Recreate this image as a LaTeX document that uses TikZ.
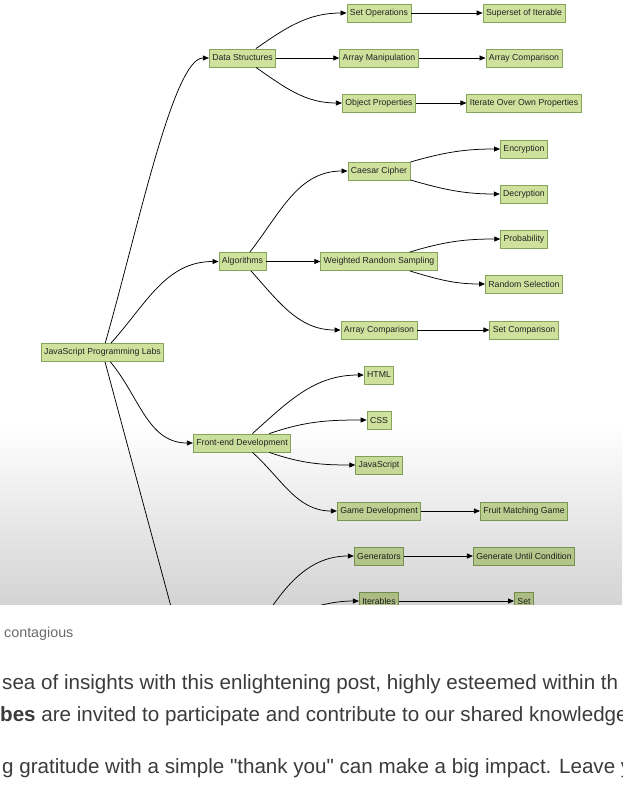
\documentclass[tikz,border=0pt]{standalone}
\usepackage{fontspec}
\setmainfont{Liberation Sans}[Ligatures=TeXOff]
\usepackage{tikz}
\usetikzlibrary{arrows.meta}
\definecolor{leaf}{HTML}{CEE29E}
\definecolor{leafedge}{HTML}{86A55A}
\definecolor{ink}{HTML}{222222}
\definecolor{bodytxt}{HTML}{3B3B3B}
\definecolor{softtxt}{HTML}{6A6A6A}

\begin{document}
\begin{tikzpicture}[x=1pt, y=1pt,
    topic/.style={draw=leafedge, fill=leaf, line width=0.8pt, text=ink,
      font=\fontsize{8.7}{10}\selectfont, inner xsep=3pt, inner ysep=0pt, minimum height=18pt},
    link/.style={-{Triangle[length=6pt, width=5pt]}, line width=0.75pt},
    para/.style={anchor=base west, inner sep=0pt, text=bodytxt, font=\fontsize{20.6}{24}\selectfont}]
  \useasboundingbox (0,0) rectangle (622,-796);
  \begin{scope}
    \clip (0,0) rectangle (622,-604);
    % root and first level
    \node[topic] (root)  at (102.5,-352.5) {JavaScript Programming Labs};
    \node[topic] (data)  at (242.5,-58)    {Data Structures};
    \node[topic] (algo)  at (242.5,-261.5) {Algorithms};
    \node[topic] (front) at (242,-443)     {Front-end Development};
    % second column
    \foreach \name/\y/\lab in {setops/13/Set Operations, arrman/58/Array Manipulation,
        objprop/103/Object Properties, caesar/171/Caesar Cipher,
        weighted/261.5/Weighted Random Sampling, arrcmp/330/Array Comparison,
        html/375/HTML, css/420/CSS, js/465/JavaScript, game/511/Game Development,
        gens/556/Generators, iters/601/Iterables}
      \node[topic] (\name) at (379,-\y) {\lab};
    % third column
    \foreach \name/\y/\lab in {superset/13/Superset of Iterable, arrcmpb/58/Array Comparison,
        ownprop/103/Iterate Over Own Properties, encr/149/Encryption, decr/194/Decryption,
        prob/239/Probability, randsel/284/Random Selection, setcmp/330/Set Comparison,
        fruit/511/Fruit Matching Game, genuntil/556/Generate Until Condition, setleaf/601/Set}
      \node[topic] (\name) at (524,-\y) {\lab};
    % branches out of the root
    \draw[link] (root) to[out=74, in=180, in looseness=0.3] (data);
    \draw[link] (root) to[out=48, in=180] (algo);
    \draw[link] (root) to[out=-50, in=180] (front);
    \coordinate (rootdown) at (180,-640);
    \draw[line width=0.75pt] (root) -- (rootdown);
    \coordinate (iterhub) at (262,-622);
    \draw[link] (iterhub) to[out=58, in=180] (gens);
    \draw[link] (iterhub) to[out=12, in=180] (iters);
    % second level
    \draw[link] (data) to[out=35, in=180] (setops);
    \draw[link] (data) -- (arrman);
    \draw[link] (data) to[out=-35, in=180] (objprop);
    \draw[link] (algo) to[out=52, in=180] (caesar);
    \draw[link] (algo) -- (weighted);
    \draw[link] (algo) to[out=-48, in=180] (arrcmp);
    \draw[link] (front) to[out=42, in=180] (html);
    \draw[link] (front) to[out=19, in=180] (css);
    \draw[link] (front) to[out=-19, in=180] (js);
    \draw[link] (front) to[out=-42, in=180] (game);
    % third level
    \draw[link] (caesar) to[out=16, in=180] (encr);
    \draw[link] (caesar) to[out=-16, in=180] (decr);
    \draw[link] (weighted) to[out=17, in=180] (prob);
    \draw[link] (weighted) to[out=-17, in=180] (randsel);
    \foreach \a/\b in {setops/superset, arrman/arrcmpb, objprop/ownprop, arrcmp/setcmp,
        game/fruit, gens/genuntil, iters/setleaf}
      \draw[link] (\a) -- (\b);
    % grey fade over the lower part
    \begin{scope}[blend mode=multiply]
      \shade[top color=white, middle color=black!5, bottom color=black!17]
        (0,-425) rectangle (622,-604);
    \end{scope}
  \end{scope}
  % page text under the figure
  \begin{scope}
    \clip (0,-604) rectangle (622,-796);
    \node[para, font=\fontsize{14.3}{17}\selectfont, text=softtxt] (caption) at (4,-637) {contagious};
    \node[para] (lineone)   at (2,-689) {sea of insights with this enlightening post, highly esteemed within th};
    \node[para] (linetwo)   at (0,-721) {\textbf{bes} are invited to participate and contribute to our shared knowledge};
    \node[para] (linethree) at (2,-773) {g gratitude with a simple "thank you" can make a big impact. Leave y};
  \end{scope}
\end{tikzpicture}
\end{document}
